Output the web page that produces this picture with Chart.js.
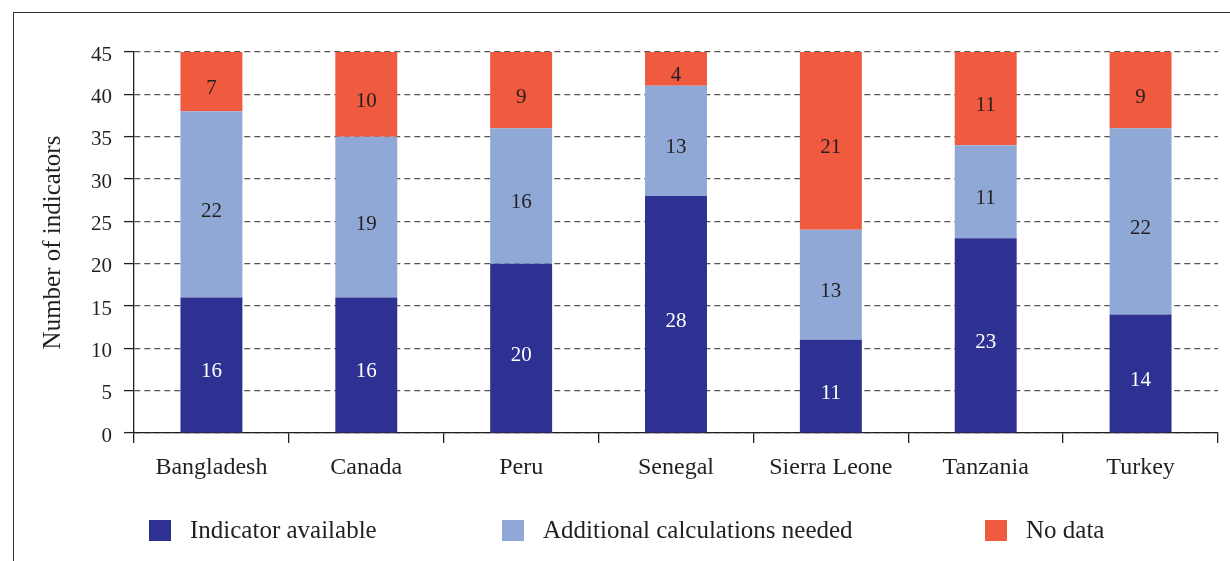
<!DOCTYPE html>
<html>
<head>
<meta charset="utf-8">
<script src="https://cdn.jsdelivr.net/npm/chart.js@4/dist/chart.umd.min.js"></script>
<style>
    body { margin: 0; background: #fff; }
    #wrap { position: relative; width: 1230px; height: 561px; overflow: hidden; }
    #frame { position: absolute; left: 13px; top: 12px; width: 1230px; height: 560px;
             border-top: 1.5px solid #333; border-left: 1.5px solid #333; }
    canvas { position: absolute; left: 0; top: 0; }
    .legend-item { position: absolute; top: 516px; height: 28px; display: flex; align-items: center;
                   font-family: "Liberation Serif", serif; font-size: 25px; color: #231f20; white-space: nowrap; }
    .legend-item span.box { display: inline-block; width: 22px; height: 21px; margin-right: 19px; }
</style>
</head>
<body>
<div id="wrap">
    <div id="frame"></div>
    <canvas id="chart" width="1230" height="561"></canvas>
    <div id="legend"></div>
</div>
<script>
// Datos del gráfico
const countries = ['Bangladesh', 'Canada', 'Peru', 'Senegal', 'Sierra Leone', 'Tanzania', 'Turkey'];
const indicatorAvailable = [16, 16, 20, 28, 11, 23, 14];
const additionalNeeded = [22, 19, 16, 13, 13, 11, 22];
const noData = [7, 10, 9, 4, 21, 11, 9];
const seriesNames = ['Indicator available', 'Additional calculations needed', 'No data'];
const seriesColors = ['#2e3192', '#8fa8d5', '#f05a3e'];
const yTicks = [0, 5, 10, 15, 20, 25, 30, 35, 40, 45];

const serif = '"Liberation Serif", serif';
const textColor = '#231f20';

// Etiquetas de valores dentro de las barras
const valueLabels = {
    id: 'valueLabels',
    afterDatasetsDraw(chart) {
        const ctx = chart.ctx;
        ctx.save();
        ctx.font = '21px ' + serif;
        ctx.textAlign = 'center';
        ctx.textBaseline = 'middle';
        chart.data.datasets.forEach((ds, i) => {
            chart.getDatasetMeta(i).data.forEach((bar, j) => {
                ctx.fillStyle = i === 0 ? '#ffffff' : textColor;
                ctx.fillText(ds.data[j], bar.x, (bar.y + bar.base) / 2 + 7);
            });
        });
        ctx.restore();
    }
};

const ctx = document.getElementById('chart').getContext('2d');
new Chart(ctx, {
    type: 'bar',
    data: {
        labels: countries,
        datasets: [indicatorAvailable, additionalNeeded, noData].map((data, i) => ({
            label: seriesNames[i],
            data: data,
            backgroundColor: seriesColors[i],
            borderWidth: 0,
            barPercentage: 0.4,
            categoryPercentage: 1
        }))
    },
    options: {
        responsive: false,
        animation: false,
        layout: { padding: { left: 38, right: 12, top: 52, bottom: 68 } },
        plugins: {
            legend: { display: false },
            tooltip: { enabled: false }
        },
        scales: {
            x: {
                stacked: true,
                afterFit: s => { s.height = 60; },
                grid: {
                    drawOnChartArea: false,
                    drawTicks: true,
                    tickLength: 10,
                    tickColor: textColor,
                    lineWidth: 1.3
                },
                border: { color: textColor, width: 1.3 },
                ticks: { color: textColor, font: { family: serif, size: 24 }, padding: 10 }
            },
            y: {
                stacked: true,
                min: 0,
                max: 45,
                afterFit: s => { s.width = 96; },
                afterBuildTicks: s => { s.ticks = yTicks.map(v => ({ value: v })); },
                grid: {
                    color: '#555',
                    lineWidth: 1.2,
                    tickLength: 10,
                    tickColor: textColor,
                    tickWidth: 1.3
                },
                border: { color: textColor, width: 1.3, dash: [6, 4] },
                ticks: { color: textColor, font: { family: serif, size: 21 }, padding: 12, labelOffset: 3 },
                title: {
                    display: true,
                    text: 'Number of indicators',
                    color: textColor,
                    font: { family: serif, size: 25 },
                    padding: 0
                }
            }
        }
    },
    plugins: [valueLabels]
});

// Leyenda en HTML
const legendLeft = [149, 502, 985];
const legend = document.getElementById('legend');
seriesNames.forEach((name, i) => {
    const item = document.createElement('div');
    item.className = 'legend-item';
    item.style.left = legendLeft[i] + 'px';
    item.innerHTML = `<span class="box" style="background:${seriesColors[i]}"></span>${name}`;
    legend.appendChild(item);
});
</script>
</body>
</html>
